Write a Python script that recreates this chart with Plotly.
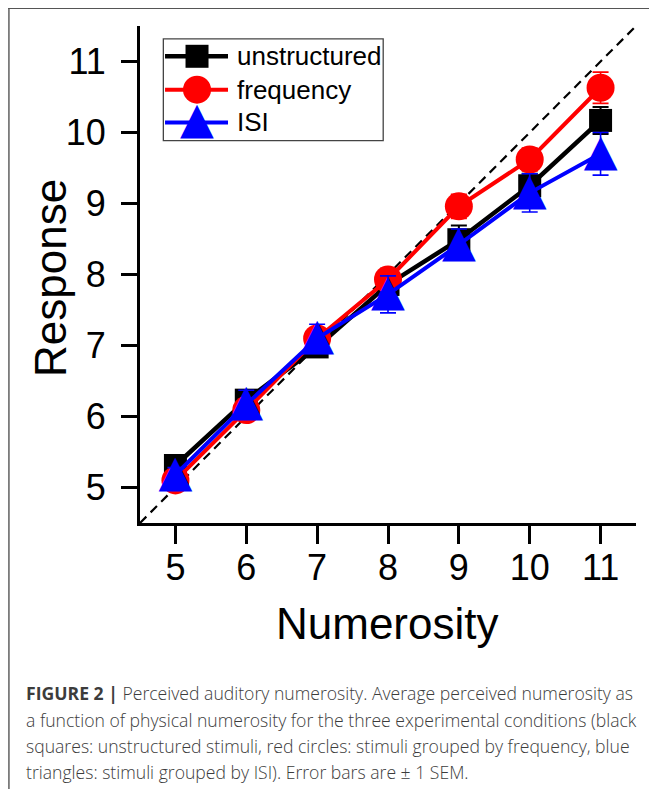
import plotly.graph_objects as go

# ---------------- data ----------------
numerosity = [5, 6, 7, 8, 9, 10, 11]
unstructured = [5.31, 6.23, 6.98, 7.86, 8.49, 9.25, 10.17]
frequency = [5.10, 6.09, 7.10, 7.93, 8.96, 9.62, 10.63]
isi = [5.18, 6.17, 7.10, 7.72, 8.42, 9.15, 9.70]
sem_unstructured = [0.08, 0.10, 0.12, 0.22, 0.20, 0.17, 0.19]
sem_frequency = [0.07, 0.12, 0.10, 0.15, 0.17, 0.16, 0.22]
sem_isi = [0.10, 0.20, 0.20, 0.26, 0.22, 0.27, 0.30]
identity = [4.5, 11.5]
tick_vals = [5, 6, 7, 8, 9, 10, 11]
tick_text = ["5", "6", "7", "8", "9", "10", "11"]
series_names = ["unstructured", "frequency", "ISI"]
caption_lines = [
    "<b>FIGURE 2 |</b> Perceived auditory numerosity. Average perceived numerosity as",
    "a function of physical numerosity for the three experimental conditions (black",
    "squares: unstructured stimuli, red circles: stimuli grouped by frequency, blue",
    "triangles: stimuli grouped by ISI). Error bars are \u00b1 1 SEM.",
]

# ---------------- layout geometry (page pixels) ----------------
PAGE_W, PAGE_H = 657, 789
OFF = 8  # default body margin of the html page
W, H = PAGE_W - OFF, PAGE_H - OFF
L, R, T, B = 139.95, 636.25, 26.45, 522.75
PW, PH = R - L, B - T


def xp(px):
    return (px - L) / PW


def yp(py):
    return (B - py) / PH


FONT = "Liberation Sans, Arial, sans-serif"
BLACK, RED, BLUE = "#000000", "#ff0000", "#0000ff"
TRI = "\u25b2"

fig = go.Figure()

# identity dashed line
fig.add_trace(go.Scatter(x=identity, y=identity, mode="lines",
                         line=dict(color="black", width=2.2, dash="9px,6px"),
                         hoverinfo="skip", showlegend=False))

# unstructured
fig.add_trace(go.Scatter(
    x=numerosity, y=unstructured, mode="lines+markers", name=series_names[0],
    line=dict(color=BLACK, width=4.5),
    marker=dict(symbol="square", size=23, color=BLACK),
    error_y=dict(type="data", array=sem_unstructured, color=BLACK, thickness=2, width=8),
    showlegend=False))

# frequency
fig.add_trace(go.Scatter(
    x=numerosity, y=frequency, mode="lines+markers", name=series_names[1],
    line=dict(color=RED, width=4),
    marker=dict(symbol="circle", size=28, color=RED),
    error_y=dict(type="data", array=sem_frequency, color=RED, thickness=1.6, width=8),
    showlegend=False))

# ISI line + error bars
fig.add_trace(go.Scatter(
    x=numerosity, y=isi, mode="lines", name=series_names[2],
    line=dict(color=BLUE, width=4),
    error_y=dict(type="data", array=sem_isi, color=BLUE, thickness=1.6, width=8),
    showlegend=False))
# ISI triangles (equilateral glyphs)
fig.add_trace(go.Scatter(
    x=numerosity, y=isi, mode="text", text=[TRI] * len(numerosity),
    textposition="middle center",
    textfont=dict(family="DejaVu Sans", size=44, color=BLUE),
    hoverinfo="skip", showlegend=False))

# ---------------- custom legend on a pixel overlay axis ----------------
leg_rows = [56.7, 90.0, 122.7]
leg_line_x = [165, 228]
leg_marker_x = 197
fig.add_trace(go.Scatter(x=leg_line_x, y=[leg_rows[0]] * 2, xaxis="x2", yaxis="y2",
                         mode="lines", line=dict(color=BLACK, width=4.5), showlegend=False, hoverinfo="skip"))
fig.add_trace(go.Scatter(x=[leg_marker_x], y=[leg_rows[0]], xaxis="x2", yaxis="y2",
                         mode="markers", marker=dict(symbol="square", size=23, color=BLACK),
                         showlegend=False, hoverinfo="skip"))
fig.add_trace(go.Scatter(x=leg_line_x, y=[leg_rows[1]] * 2, xaxis="x2", yaxis="y2",
                         mode="lines", line=dict(color=RED, width=4), showlegend=False, hoverinfo="skip"))
fig.add_trace(go.Scatter(x=[leg_marker_x], y=[leg_rows[1]], xaxis="x2", yaxis="y2",
                         mode="markers", marker=dict(symbol="circle", size=28, color=RED),
                         showlegend=False, hoverinfo="skip"))
fig.add_trace(go.Scatter(x=leg_line_x, y=[leg_rows[2]] * 2, xaxis="x2", yaxis="y2",
                         mode="lines", line=dict(color=BLUE, width=4), showlegend=False, hoverinfo="skip"))
fig.add_trace(go.Scatter(x=[leg_marker_x], y=[leg_rows[2]], xaxis="x2", yaxis="y2",
                         mode="text", text=[TRI], textposition="middle center",
                         textfont=dict(family="DejaVu Sans", size=44, color=BLUE),
                         showlegend=False, hoverinfo="skip"))

shapes = [
    dict(type="rect", xref="x2", yref="y2", x0=163.3, x1=383.3, y0=39.3, y1=141,
         line=dict(color="#444444", width=1.3), fillcolor="white", layer="below"),
    # figure frame (top and left edges)
    dict(type="line", xref="paper", yref="paper", x0=xp(8), x1=xp(PAGE_W), y0=yp(8.8), y1=yp(8.8),
         line=dict(color="#555555", width=1.4)),
    dict(type="line", xref="paper", yref="paper", x0=xp(8.8), x1=xp(8.8), y0=yp(8), y1=yp(PAGE_H),
         line=dict(color="#555555", width=1.4)),
]

annotations = []
for name, row in zip(series_names, leg_rows):
    annotations.append(dict(xref="x2", yref="y2", x=235, y=row, text=name, showarrow=False,
                            xanchor="left", yanchor="middle",
                            font=dict(family=FONT, size=26, color="black")))

# axis titles
annotations.append(dict(xref="paper", yref="paper", x=xp(388), y=yp(623), text="Numerosity",
                        showarrow=False, xanchor="center", yanchor="middle",
                        font=dict(family=FONT, size=44, color="black")))
annotations.append(dict(xref="paper", yref="paper", x=xp(51), y=yp(278), text="Response",
                        showarrow=False, xanchor="center", yanchor="middle", textangle=-90,
                        font=dict(family=FONT, size=44, color="black")))

# caption
for i, line in enumerate(caption_lines):
    annotations.append(dict(xref="paper", yref="paper", x=xp(24), y=yp(693 + 26 * i), text=line,
                            showarrow=False, xanchor="left", yanchor="middle", align="left",
                            font=dict(family="Open Sans, Liberation Sans, sans-serif", size=17.6,
                                      color="#3c3c3c", weight=300)))

axis_common = dict(
    tickmode="array", tickvals=tick_vals, ticktext=tick_text,
    showgrid=False, zeroline=False, showline=True, linecolor="black", linewidth=3,
    ticks="outside", tickcolor="black", tickwidth=3,
    tickfont=dict(family=FONT, size=36, color="black"),
    fixedrange=True,
)

fig.update_layout(
    width=W, height=H,
    margin=dict(l=L - OFF, r=PAGE_W - R, t=T - OFF, b=PAGE_H - B, autoexpand=False),
    paper_bgcolor="white", plot_bgcolor="white",
    xaxis=dict(range=[4.5, 11.5], ticklen=18, ticklabelstandoff=-7, **axis_common),
    yaxis=dict(range=[4.5, 11.5], ticklen=16, ticklabelstandoff=8, **axis_common),
    xaxis2=dict(range=[L, R], overlaying="x", visible=False, fixedrange=True),
    yaxis2=dict(range=[B, T], overlaying="y", visible=False, fixedrange=True),
    shapes=shapes, annotations=annotations,
    showlegend=False,
)

fig.write_html("out.html")
